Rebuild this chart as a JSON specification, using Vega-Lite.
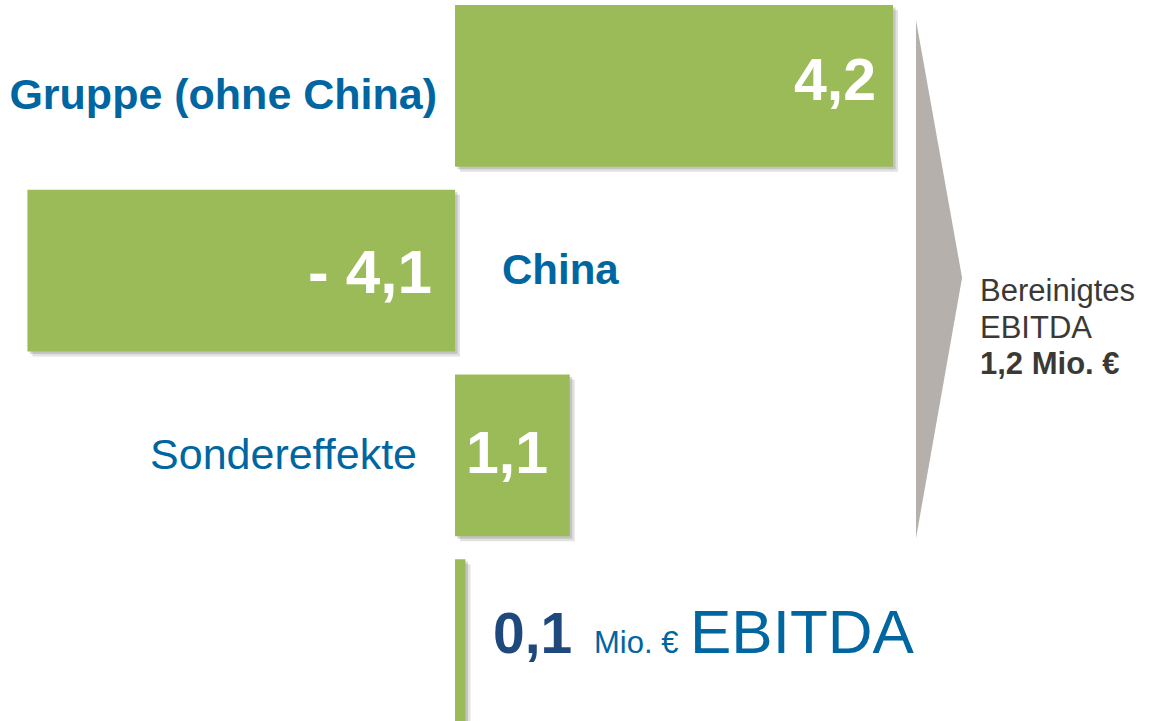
{
  "$schema": "https://vega.github.io/schema/vega-lite/v6.json",
  "width": 1157,
  "height": 721,
  "autosize": {"type": "fit", "contains": "padding"},
  "padding": 0,
  "background": "white",
  "config": {"view": {"stroke": null}, "text": {"font": "Liberation Sans"}},
  "datasets": {
    "rows": [
      {"cat": "Gruppe (ohne China)", "value": 4.2, "txt": "4,2"},
      {"cat": "China", "value": -4.1, "txt": "- 4,1"},
      {"cat": "Sondereffekte", "value": 1.1, "txt": "1,1"},
      {"cat": "EBITDA", "value": 0.1, "txt": "0,1", "unit": "Mio. €"}
    ],
    "arrow": [
      {"ax": 4.42, "top": 2.8, "bot": 75.2},
      {"ax": 4.862, "top": 38.8, "bot": 38.8}
    ],
    "note": [
      {"line": "Bereinigtes"},
      {"line": "EBITDA"},
      {"line": "1,2 Mio. €"}
    ]
  },
  "resolve": {"scale": {"y": "independent"}},
  "layer": [
    {
      "data": {"name": "rows"},
      "encoding": {
        "y": {"field": "cat", "type": "nominal", "sort": null, "axis": null,
          "scale": {"domain": ["Gruppe (ohne China)", "China", "Sondereffekte", "EBITDA"], "range": [5, 721], "paddingInner": 0.125, "paddingOuter": 0}},
        "x": {"field": "value", "type": "quantitative", "axis": null,
          "scale": {"domain": [-4.363, 6.731], "nice": false, "zero": false}}
      },
      "layer": [
        {"mark": {"type": "bar", "color": "#7a7a7a", "opacity": 0.22, "xOffset": 5, "x2Offset": 5, "yOffset": 5, "y2Offset": 5}},
        {"mark": {"type": "bar", "color": "#7a7a7a", "opacity": 0.3, "xOffset": 2.5, "x2Offset": 2.5, "yOffset": 2.5, "y2Offset": 2.5}},
        {"mark": {"type": "bar", "color": "#9BBB59"}},
        {
          "transform": [{"filter": "datum.cat === 'Gruppe (ohne China)'"}],
          "mark": {"type": "text", "align": "right", "baseline": "alphabetic", "dx": -17, "dy": 14, "fontSize": 59, "fontWeight": "bold", "color": "white"},
          "encoding": {"text": {"field": "txt"}}
        },
        {
          "transform": [{"filter": "datum.cat === 'China'"}],
          "mark": {"type": "text", "align": "right", "baseline": "alphabetic", "dx": -23, "dy": 22, "fontSize": 62, "fontWeight": "bold", "color": "white"},
          "encoding": {"text": {"field": "txt"}, "x": {"datum": 0}}
        },
        {
          "transform": [{"filter": "datum.cat === 'Sondereffekte'"}],
          "mark": {"type": "text", "align": "left", "baseline": "alphabetic", "dx": 11, "dy": 18, "fontSize": 59, "fontWeight": "bold", "color": "white"},
          "encoding": {"text": {"field": "txt"}, "x": {"datum": 0}}
        },
        {
          "transform": [{"filter": "datum.cat === 'EBITDA'"}],
          "mark": {"type": "text", "align": "left", "baseline": "alphabetic", "dx": 38, "dy": 13, "fontSize": 57, "fontWeight": "bold", "color": "#1F497D"},
          "encoding": {"text": {"field": "txt"}, "x": {"datum": 0}}
        },
        {
          "transform": [{"filter": "datum.cat === 'EBITDA'"}],
          "mark": {"type": "text", "align": "left", "baseline": "alphabetic", "dx": 139, "dy": 13, "fontSize": 31, "color": "#0066A1"},
          "encoding": {"text": {"field": "unit"}, "x": {"datum": 0}}
        },
        {
          "transform": [{"filter": "datum.cat === 'EBITDA'"}],
          "mark": {"type": "text", "align": "left", "baseline": "alphabetic", "dx": 235, "dy": 13, "fontSize": 62, "color": "#0066A1"},
          "encoding": {"text": {"field": "cat"}, "x": {"datum": 0}}
        },
        {
          "transform": [{"filter": "datum.cat === 'Gruppe (ohne China)'"}],
          "mark": {"type": "text", "align": "right", "baseline": "alphabetic", "dx": -18, "dy": 23, "fontSize": 43, "fontWeight": "bold", "color": "#0066A1"},
          "encoding": {"text": {"field": "cat"}, "x": {"datum": 0}}
        },
        {
          "transform": [{"filter": "datum.cat === 'China'"}],
          "mark": {"type": "text", "align": "left", "baseline": "alphabetic", "dx": 47, "dy": 13, "fontSize": 42, "fontWeight": "bold", "color": "#0066A1"},
          "encoding": {"text": {"field": "cat"}, "x": {"datum": 0}}
        },
        {
          "transform": [{"filter": "datum.cat === 'Sondereffekte'"}],
          "mark": {"type": "text", "align": "right", "baseline": "alphabetic", "dx": -38, "dy": 14, "fontSize": 43, "color": "#0066A1"},
          "encoding": {"text": {"field": "cat"}, "x": {"datum": 0}}
        }
      ]
    },
    {
      "layer": [
        {
          "data": {"name": "arrow"},
          "mark": {"type": "area", "color": "#B5B0AB", "orient": "vertical", "interpolate": "linear"},
          "encoding": {
            "x": {"field": "ax", "type": "quantitative", "axis": null, "scale": {"domain": [-4.363, 6.731], "nice": false, "zero": false}},
            "y": {"field": "top", "type": "quantitative", "axis": null, "scale": {"domain": [0, 100], "reverse": true, "nice": false, "zero": false}},
            "y2": {"field": "bot"}
          }
        },
        {
          "data": {"name": "note"},
          "transform": [{"filter": "datum.line === 'Bereinigtes'"}],
          "mark": {"type": "text", "align": "left", "baseline": "alphabetic", "fontSize": 31, "color": "#3B3936"},
          "encoding": {"text": {"field": "line"}, "x": {"datum": 5.034}, "y": {"datum": 42.0}}
        },
        {
          "data": {"name": "note"},
          "transform": [{"filter": "datum.line === 'EBITDA'"}],
          "mark": {"type": "text", "align": "left", "baseline": "alphabetic", "fontSize": 31, "color": "#3B3936"},
          "encoding": {"text": {"field": "line"}, "x": {"datum": 5.034}, "y": {"datum": 47.2}}
        },
        {
          "data": {"name": "note"},
          "transform": [{"filter": "datum.line === '1,2 Mio. €'"}],
          "mark": {"type": "text", "align": "left", "baseline": "alphabetic", "fontSize": 31, "fontWeight": "bold", "color": "#3B3936"},
          "encoding": {"text": {"field": "line"}, "x": {"datum": 5.034}, "y": {"datum": 52.3}}
        }
      ]
    }
  ]
}
